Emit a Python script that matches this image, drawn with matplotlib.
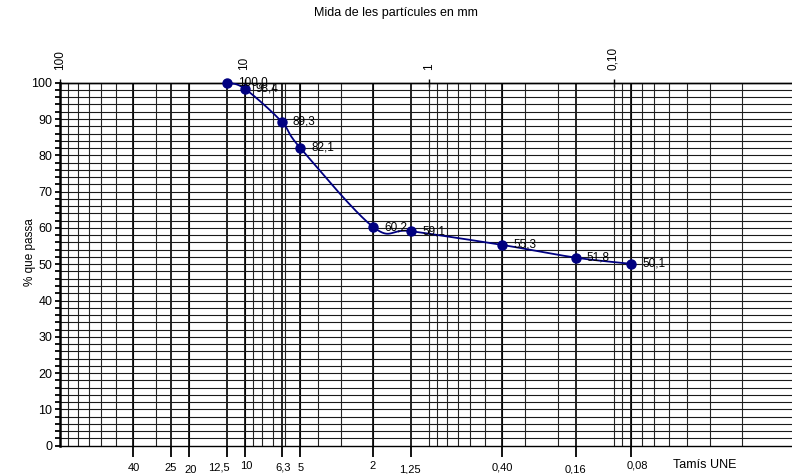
import numpy as np
import matplotlib
matplotlib.use("Agg")
import matplotlib.pyplot as plt
from matplotlib.ticker import MultipleLocator, NullLocator, NullFormatter

plt.rcParams['font.family'] = ['Liberation Sans', 'DejaVu Sans']

# corba granulomètrica
tamis = [12.5, 10, 6.3, 5, 2, 1.25, 0.40, 0.16, 0.08]
passa = [100.0, 98.4, 89.3, 82.1, 60.2, 59.1, 55.3, 51.8, 50.1]

# tamisos UNE (eix inferior)
tamis_une = [40, 25, 20, 12.5, 10, 6.3, 5, 2, 1.25, 0.40, 0.16, 0.08]
etiq_une = ['40', '25', '20', '12,5', '10', '6,3', '5', '2', '1,25', '0,40', '0,16', '0,08']

# eix superior
mida = [100, 10, 1, 0.1]
etiq_mida = ['100', '10', '1', '0,10']

BLAU = '#000080'
W, H = 792, 474

fig = plt.figure(figsize=(W / 100, H / 100), dpi=100)
# eix: 100 mm a x=60 px, 184.5 px per dècada, y de 445.7 a 82.7 px
ax = fig.add_axes([60 / W, (H - 445.7) / H, 738 / W, 363 / H])
ax.set_xscale('log')
ax.set_xlim(100, 0.01)
ax.set_ylim(0, 100)

# quadrícula
for dec in [0.01, 0.1, 1, 10]:
    for k in range(1, 10):
        ax.axvline(dec * k, color='#262626', lw=0.8, zorder=0)
for t in tamis_une:
    ax.axvline(t, color='black', lw=1.2, zorder=0)
for yv in range(2, 100, 2):
    ax.axhline(yv, color='#1a1a1a', lw=0.8, zorder=0)

# eix Y
ax.yaxis.set_major_locator(MultipleLocator(10))
ax.yaxis.set_minor_locator(MultipleLocator(2))
ax.tick_params(axis='y', which='both', direction='out', length=3.5, width=1.3,
               labelsize=9, pad=2)
ax.spines['left'].set_linewidth(1.8)
for s in ['top', 'bottom']:
    ax.spines[s].set_linewidth(1.0)
ax.spines['right'].set_visible(False)

# eix X inferior: tamisos
ax.set_xticks(tamis_une)
ax.xaxis.set_minor_locator(NullLocator())
ax.xaxis.set_major_formatter(NullFormatter())
ax.tick_params(axis='x', which='major', direction='out', length=8, width=1.3)
# desplaçaments de les etiquetes (px): horitzontal i cap avall
dx_px = [0, 0, 2, -8, 2, 2, 1, -1, -1, 0, 0, 6]
dy_px = [22, 22, 24, 22, 20, 22, 22, 20, 24, 22, 24, 20]
for t, lab, dx, dy in zip(tamis_une, etiq_une, dx_px, dy_px):
    ax.annotate(lab, xy=(t, 0), xycoords=('data', 'axes fraction'),
                xytext=(dx, -dy), textcoords='offset pixels',
                ha='center', va='center', fontsize=8)
fig.text(673 / W, (H - 465) / H, 'Tamís UNE', ha='left', va='center', fontsize=9)

# eix X superior: mida
ax2 = ax.twiny()
ax2.set_xscale('log')
ax2.set_xlim(ax.get_xlim())
ax2.set_xticks(mida)
ax2.set_xticklabels(etiq_mida, rotation=90)
ax2.xaxis.set_minor_locator(NullLocator())
ax2.tick_params(axis='x', direction='inout', length=6, width=1.0, labelsize=8.5, pad=6)
for s in ['left', 'right', 'bottom']:
    ax2.spines[s].set_visible(False)
ax2.spines['top'].set_linewidth(1.0)

# línia suavitzada (tipus Excel) en coordenades de pantalla
fig.canvas.draw()
pts = ax.transData.transform(np.column_stack([tamis, passa]))
P = np.vstack([pts[0], pts, pts[-1]])
segs = []
tt = np.linspace(0, 1, 40)[:, None]
for i in range(1, len(P) - 2):
    p0, p1, p2, p3 = P[i - 1], P[i], P[i + 1], P[i + 2]
    c1 = p1 + (p2 - p0) / 6
    c2 = p2 - (p3 - p1) / 6
    segs.append((1 - tt) ** 3 * p1 + 3 * (1 - tt) ** 2 * tt * c1
                + 3 * (1 - tt) * tt ** 2 * c2 + tt ** 3 * p2)
curve = ax.transData.inverted().transform(np.vstack(segs))
ax2.set_zorder(-1)
ax.patch.set_visible(False)
ax.plot(curve[:, 0], curve[:, 1], color=BLAU, lw=1.3, zorder=3, clip_on=False)
ax.plot(tamis, passa, 'o', color=BLAU, ms=6.5, zorder=4, clip_on=False)

for t, p in zip(tamis, passa):
    ax.annotate(f'{p:.1f}'.replace('.', ','), xy=(t, p), xytext=(11, 0),
                textcoords='offset pixels', ha='left', va='center', fontsize=8.5,
                zorder=5)

fig.text(396 / W, (H - 13) / H, 'Mida de les partícules en mm',
         ha='center', va='center', fontsize=9)
fig.text(30 / W, (H - 252) / H, '% que passa', rotation=90,
         ha='center', va='center', fontsize=8.5)

fig.savefig('out.png', dpi=100, facecolor='white')
